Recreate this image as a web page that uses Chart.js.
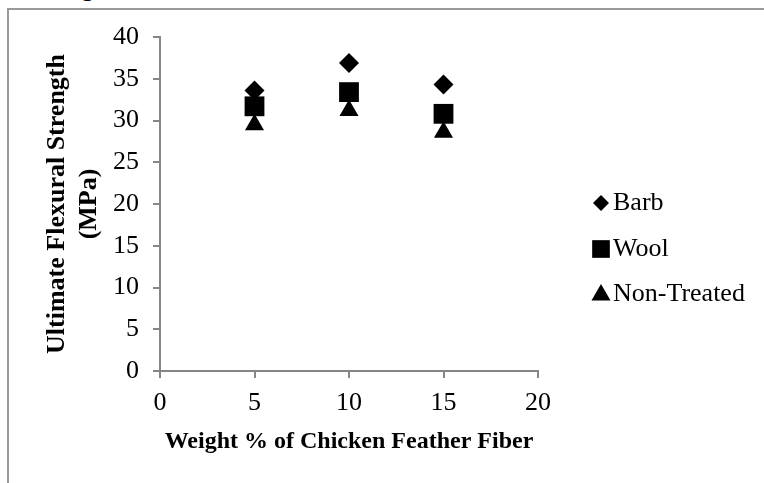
<!DOCTYPE html>
<html lang="en">
<head>
  <meta charset="UTF-8" />
  <title>Ultimate Flexural Strength</title>
  <script src="https://cdn.jsdelivr.net/npm/chart.js"></script>
  <style>
    html, body { margin: 0; padding: 0; background: #fff; overflow: hidden; }
    #wrap { position: relative; width: 764px; height: 483px; }
    #frame { position: absolute; left: 7px; top: 8px; right: 0; bottom: 0;
             border-left: 2px solid #999; border-top: 2px solid #999; }
    #cut { position: absolute; left: 81px; top: -25px; font: 26px/26px 'Liberation Serif', serif; color: #000; }
    canvas { position: absolute; left: 0; top: 0; }
  </style>
</head>
<body>
<div id="wrap">
  <div id="frame"></div>
  <div id="cut">g</div>
  <canvas id="chart" width="764" height="483"></canvas>
</div>
<script>
  // data
  const weightPct = [5, 10, 15];
  const barb = [33.6, 36.9, 34.3];
  const wool = [31.7, 33.4, 30.8];
  const nonTreated = [29.5, 31.2, 28.6];

  const seriesNames = ["Barb", "Wool", "Non-Treated"];
  const xTitle = "Weight % of Chicken Feather Fiber";
  const yTitle = ["Ultimate Flexural Strength", "(MPa)"];

  const axisGrey = "#868686";
  const serif = "'Liberation Serif', 'Times New Roman', serif";

  Chart.defaults.font.family = serif;
  Chart.defaults.color = "#000";

  const pts = (ys) => weightPct.map((x, i) => ({ x: x, y: ys[i] }));

  // legend on the right, drawn by hand so spacing matches the figure
  const sideLegend = {
    id: "sideLegend",
    afterDraw(chart) {
      const ctx = chart.ctx;
      const mx = 601, tx = 613;
      const rows = [203, 249, 294];
      const sizes = [8, 12.5, 11];
      ctx.save();
      chart.data.datasets.forEach((ds, i) => {
        ctx.fillStyle = "#000";
        let y = rows[i];
        if (ds.pointStyle === "triangle") y += 1;
        Chart.helpers.drawPoint(ctx, { pointStyle: ds.pointStyle, radius: sizes[i], rotation: 0, borderWidth: 0 }, mx, y);
        ctx.font = "26px " + serif;
        ctx.textBaseline = "middle";
        ctx.textAlign = "left";
        ctx.fillText(ds.label, tx, rows[i]);
      });
      ctx.restore();
    }
  };

  new Chart(document.getElementById("chart"), {
    type: "scatter",
    data: {
      datasets: [
        { label: seriesNames[0], data: pts(barb), pointStyle: "rectRot", pointRadius: 10,
          backgroundColor: "#000", borderWidth: 0 },
        { label: seriesNames[1], data: pts(wool), pointStyle: "rect", pointRadius: 14,
          backgroundColor: "#000", borderWidth: 0 },
        { label: seriesNames[2], data: pts(nonTreated), pointStyle: "triangle", pointRadius: 11,
          backgroundColor: "#000", borderWidth: 0 }
      ]
    },
    options: {
      responsive: false,
      animation: false,
      layout: { padding: { top: 37, right: 226, bottom: 0, left: 0 } },
      plugins: { legend: { display: false }, tooltip: { enabled: false } },
      scales: {
        x: {
          type: "linear", min: 0, max: 20,
          ticks: { stepSize: 5, padding: 10, font: { size: 26 } },
          grid: { drawOnChartArea: false, drawTicks: true, tickLength: 7, color: axisGrey, lineWidth: 2 },
          border: { color: axisGrey, width: 2 },
          title: { display: true, text: xTitle, font: { size: 24, weight: "bold" },
                   padding: { top: 0, bottom: 27 } },
          afterFit(s) { s.height = 112; }
        },
        y: {
          min: 0, max: 40,
          ticks: { stepSize: 5, padding: 14, font: { size: 26 } },
          grid: { drawOnChartArea: false, drawTicks: true, tickLength: 7, color: axisGrey, lineWidth: 2 },
          border: { color: axisGrey, width: 2 },
          title: { display: true, text: yTitle, font: { size: 26, weight: "bold" },
                   padding: { top: 42, bottom: 0 } },
          afterFit(s) { s.width = 160; }
        }
      }
    },
    plugins: [sideLegend]
  });
</script>
</body>
</html>
